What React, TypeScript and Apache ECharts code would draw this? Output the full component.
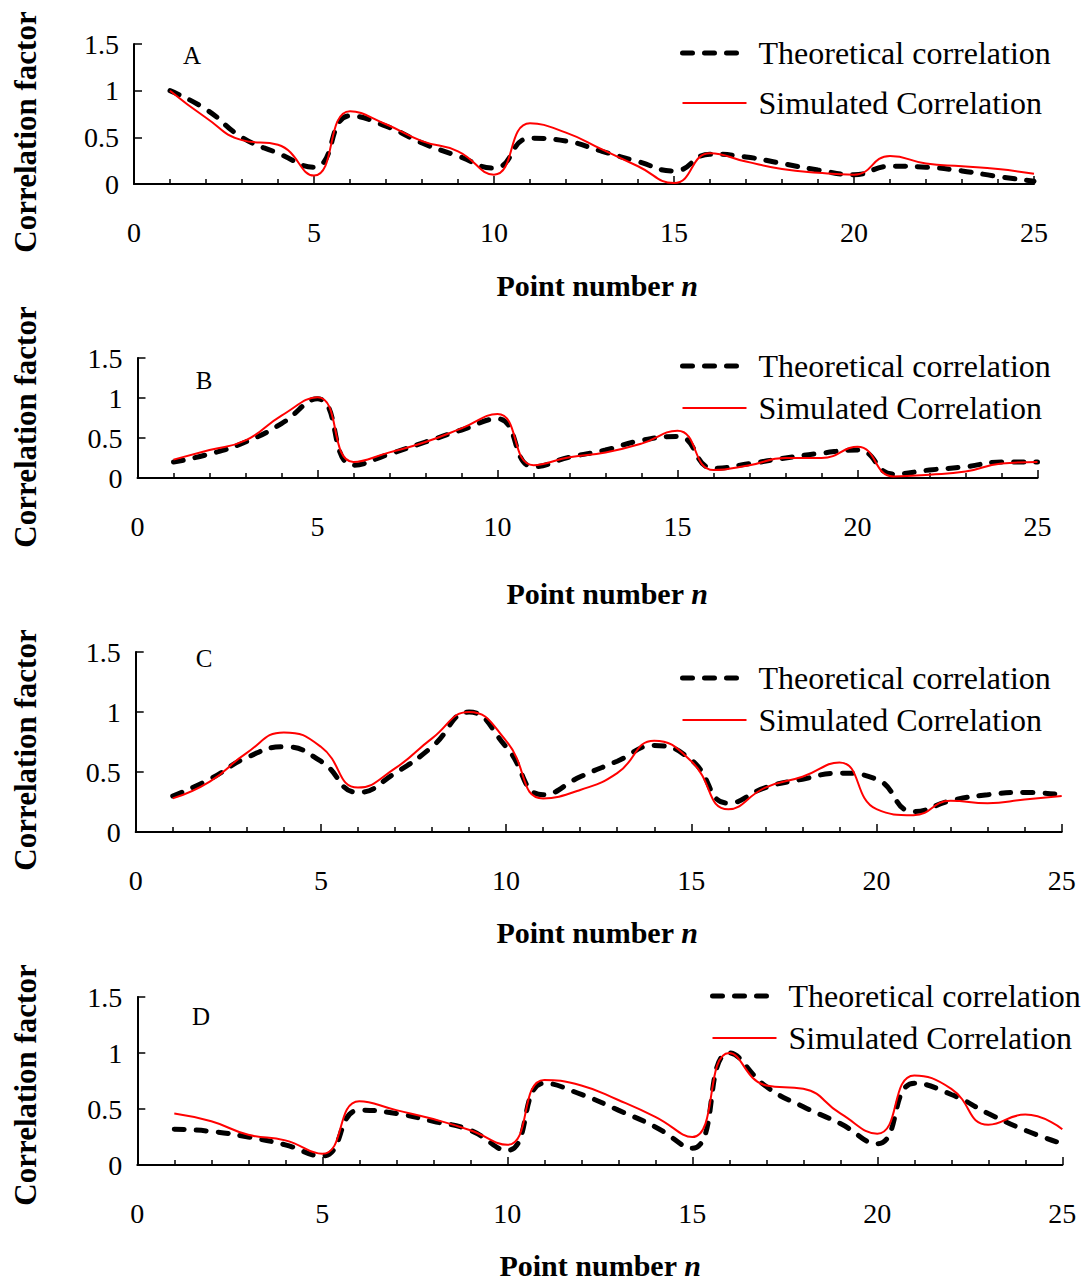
import React, { useEffect, useRef } from "react";
import * as echarts from "echarts";

const pointN = [1, 2, 3, 4, 5, 6, 7, 8, 9, 10, 11, 12, 13, 14, 15, 16, 17, 18, 19, 20, 21, 22, 23, 24, 25];

const theoA = [1.0, 0.8, 0.5, 0.33, 0.18, 0.73, 0.62, 0.44, 0.3, 0.17, 0.49, 0.46, 0.35, 0.24, 0.14, 0.32, 0.29, 0.22, 0.15, 0.1, 0.19, 0.18, 0.14, 0.08, 0.03];
const simA = [1.0, 0.71, 0.47, 0.42, 0.09, 0.78, 0.64, 0.46, 0.35, 0.1, 0.65, 0.55, 0.37, 0.19, 0.01, 0.33, 0.24, 0.16, 0.12, 0.1, 0.3, 0.22, 0.19, 0.16, 0.11];

const theoB = [0.2, 0.3, 0.45, 0.68, 0.99, 0.16, 0.3, 0.45, 0.6, 0.74, 0.14, 0.26, 0.35, 0.47, 0.52, 0.12, 0.18, 0.25, 0.31, 0.35, 0.05, 0.1, 0.14, 0.2, 0.2];
const simB = [0.23, 0.35, 0.47, 0.78, 1.01, 0.2, 0.32, 0.45, 0.62, 0.8, 0.16, 0.26, 0.32, 0.43, 0.59, 0.1, 0.16, 0.25, 0.25, 0.39, 0.02, 0.04, 0.08, 0.18, 0.2];

const theoC = [0.3, 0.44, 0.62, 0.71, 0.59, 0.33, 0.49, 0.71, 1.0, 0.71, 0.31, 0.46, 0.59, 0.72, 0.6, 0.24, 0.37, 0.44, 0.49, 0.44, 0.17, 0.26, 0.31, 0.33, 0.31];
const simC = [0.28, 0.42, 0.66, 0.83, 0.71, 0.37, 0.53, 0.78, 1.0, 0.76, 0.28, 0.35, 0.49, 0.76, 0.59, 0.19, 0.37, 0.46, 0.58, 0.19, 0.14, 0.26, 0.24, 0.27, 0.3];

const theoD = [0.32, 0.3, 0.25, 0.18, 0.08, 0.49, 0.46, 0.39, 0.31, 0.13, 0.73, 0.63, 0.49, 0.34, 0.15, 1.0, 0.7, 0.52, 0.37, 0.19, 0.73, 0.63, 0.46, 0.31, 0.19];
const simD = [0.46, 0.39, 0.27, 0.22, 0.1, 0.57, 0.49, 0.41, 0.31, 0.18, 0.76, 0.71, 0.58, 0.43, 0.25, 1.0, 0.71, 0.68, 0.46, 0.28, 0.8, 0.68, 0.36, 0.45, 0.32];

const seriesNames = ["Theoretical correlation", "Simulated Correlation"];
const panelLetters = ["A", "B", "C", "D"];
const xTitle = "Point number ";
const xTitleItalic = "n";
const yTitle = "Correlation factor";

const FONT = '"Liberation Serif", "Times New Roman", serif';

export default function App() {
  const ref = useRef<HTMLDivElement>(null);

  useEffect(() => {
    if (!ref.current) return;
    const chart = echarts.init(ref.current, undefined, { renderer: "svg" });

    const panels = [
      { theo: theoA, sim: simA, grid: { left: 134, top: 44, width: 900, height: 140 }, legend: { left: 680, top: 37, gap: 18 }, letter: [192, 55], xName: [597, 285], yName: [25, 132] },
      { theo: theoB, sim: simB, grid: { left: 137.5, top: 358, width: 900, height: 120 }, legend: { left: 680, top: 350, gap: 10 }, letter: [204, 380], xName: [607, 593], yName: [25, 427] },
      { theo: theoC, sim: simC, grid: { left: 135.7, top: 652, width: 926, height: 180 }, legend: { left: 680, top: 662, gap: 10 }, letter: [204, 658], xName: [597, 932], yName: [25, 750] },
      { theo: theoD, sim: simD, grid: { left: 137.3, top: 997, width: 925, height: 168 }, legend: { left: 710, top: 980, gap: 10 }, letter: [201, 1016], xName: [600, 1265], yName: [25, 1085] },
    ];

    const dashStyle = { color: "#000", width: 5, type: [10, 12], cap: "round" };
    const redStyle = { color: "#ff0000", width: 2 };

    const grids: any[] = [];
    const xAxes: any[] = [];
    const yAxes: any[] = [];
    const series: any[] = [];
    const legends: any[] = [];
    const graphics: any[] = [];

    panels.forEach((p, i) => {
      grids.push({ ...p.grid, containLabel: false });
      xAxes.push({
        type: "value",
        gridIndex: i,
        min: 0,
        max: 25,
        interval: 5,
        axisLine: { show: true, onZero: false, lineStyle: { color: "#000", width: 2 } },
        axisTick: { show: true, inside: true, length: 8, lineStyle: { color: "#000", width: 1.5 } },
        minorTick: { show: true, splitNumber: 5, length: 5, lineStyle: { color: "#000", width: 1.5 } },
        splitLine: { show: false },
        axisLabel: { color: "#000", fontSize: 28, fontFamily: FONT, margin: 34 },
      });
      yAxes.push({
        type: "value",
        gridIndex: i,
        min: 0,
        max: 1.5,
        interval: 0.5,
        axisLine: { show: true, onZero: false, lineStyle: { color: "#000", width: 2 } },
        axisTick: { show: true, inside: true, length: 8, lineStyle: { color: "#000", width: 1.5 } },
        splitLine: { show: false },
        axisLabel: { color: "#000", fontSize: 28, fontFamily: FONT, margin: 15 },
      });
      series.push({
        type: "line",
        name: seriesNames[0],
        xAxisIndex: i,
        yAxisIndex: i,
        data: pointN.map((n, k) => [n, p.theo[k]]),
        smooth: 0.5,
        symbol: "none",
        showSymbol: false,
        lineStyle: dashStyle,
        itemStyle: { color: "#000" },
        z: 2,
      });
      series.push({
        type: "line",
        name: seriesNames[1],
        xAxisIndex: i,
        yAxisIndex: i,
        data: pointN.map((n, k) => [n, p.sim[k]]),
        smooth: 0.5,
        symbol: "none",
        showSymbol: false,
        lineStyle: redStyle,
        itemStyle: { color: "#ff0000" },
        z: 3,
      });
      legends.push({
        left: p.legend.left,
        top: p.legend.top,
        orient: "vertical",
        padding: 0,
        itemGap: p.legend.gap,
        itemWidth: 64,
        itemHeight: 14,
        selectedMode: false,
        itemStyle: { opacity: 0 },
        data: [
          { name: seriesNames[0], itemStyle: { opacity: 0 }, lineStyle: { ...dashStyle } },
          { name: seriesNames[1], itemStyle: { opacity: 0 }, lineStyle: { ...redStyle } },
        ],
        textStyle: { color: "#000", fontSize: 32, fontFamily: FONT, padding: [0, 0, 0, 7] },
      });
      graphics.push({
        type: "text",
        x: p.letter[0],
        y: p.letter[1],
        style: { text: panelLetters[i], fontSize: 25, fontFamily: FONT, fill: "#000", align: "center", verticalAlign: "middle" },
      });
      graphics.push({
        type: "text",
        x: p.xName[0],
        y: p.xName[1],
        style: {
          text: `{b|${xTitle}}{bi|${xTitleItalic}}`,
          rich: {
            b: { fontSize: 30, fontWeight: "bold", fontFamily: FONT, fill: "#000" },
            bi: { fontSize: 30, fontWeight: "bold", fontStyle: "italic", fontFamily: FONT, fill: "#000" },
          },
          fill: "#000",
          align: "center",
          verticalAlign: "middle",
        },
      });
      graphics.push({
        type: "text",
        x: p.yName[0],
        y: p.yName[1],
        rotation: Math.PI / 2,
        style: { text: yTitle, fontSize: 31, fontWeight: "bold", fontFamily: FONT, fill: "#000", align: "center", verticalAlign: "middle" },
      });
    });

    chart.setOption({
      animation: false,
      backgroundColor: "#fff",
      grid: grids,
      xAxis: xAxes,
      yAxis: yAxes,
      legend: legends,
      series,
      graphic: graphics,
    });

    return () => chart.dispose();
  }, []);

  return <div ref={ref} style={{ position: "absolute", left: 0, top: 0, width: 1085, height: 1283 }} />;
}
